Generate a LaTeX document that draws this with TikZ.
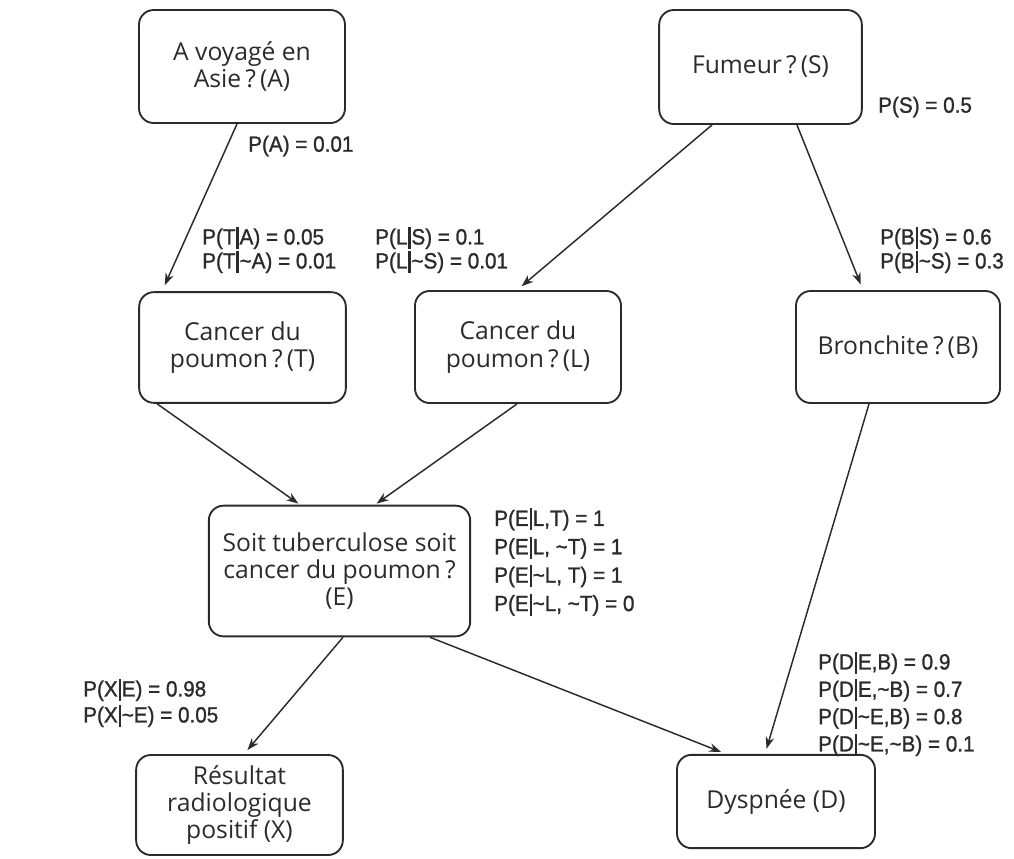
\documentclass[tikz,border=0pt]{standalone}
\usepackage{fontspec}
\setmainfont{Open Sans}
\newfontfamily\labfont[FakeStretch=0.94,FakeBold=1.2]{Liberation Sans}
\usetikzlibrary{calc,arrows.meta}
\definecolor{ink}{HTML}{2B2B2B}
% thick conditional bar used in the probability tables
\newcommand{\cond}{\kern0.6pt\rule[-3.4pt]{1.8pt}{16.5pt}\kern0.6pt}
\begin{document}
\begin{tikzpicture}[x=0.75pt,y=-0.75pt,
  state/.style={draw=ink,line width=1.4pt,rounded corners=11pt,align=center,
    text=ink,font=\fontsize{18.5}{20.5}\selectfont,inner sep=0pt},
  prob/.style={anchor=west,align=left,text=ink,inner sep=0pt,
    font=\labfont\fontsize{16.5}{18}\selectfont},
  link/.style={draw=ink,line width=1.1pt,-{Stealth[length=9pt,width=6.5pt]}}]
\useasboundingbox (0,0) rectangle (1014,858);

% variables of the network
\node[state,minimum width=154.5pt,minimum height=84.75pt] (A) at (242,66.5) {A voyagé en\\Asie\,?\,(A)};
\node[state,minimum width=152pt,minimum height=85.5pt] (S) at (760.5,67) {Fumeur\,?\,(S)};
\node[state,minimum width=155pt,minimum height=83pt] (T) at (242.5,347.5) {Cancer du\\poumon\,?\,(T)};
\node[state,minimum width=154.5pt,minimum height=84pt] (L) at (518,347) {Cancer du\\poumon\,?\,(L)};
\node[state,minimum width=153pt,minimum height=84pt] (B) at (898,347) {Bronchite\,?\,(B)};
\node[state,minimum width=196pt,minimum height=98pt] (E) at (339.5,571) {Soit tuberculose soit\\cancer du poumon\,?\\(E)};
\node[state,minimum width=155pt,minimum height=75pt] (X) at (239.5,805) {Résultat\\radiologique\\positif (X)};
\node[state,minimum width=148.5pt,minimum height=70pt] (D) at (776,801.5) {Dyspnée (D)};

% dependencies
\draw[link,shorten >=5pt] ($(A.south)+(-5,0)$) -- ($(T.north)+(-80.5,0)$);
\draw[link,shorten >=4.5pt] ($(S.south)+(-48.5,0)$) -- ($(L.north)+(-1,0)$);
\draw[link,shorten >=4.5pt] ($(S.south)+(36.5,0)$) -- ($(B.north)+(-35,0)$);
\draw[link,shorten >=1.5pt] ($(T.south)+(-85.5,0)$) -- ($(E.north)+(-39.5,0)$);
\draw[link,shorten >=1.5pt] ($(L.south)+(-1,0)$) -- ($(E.north)+(35.5,0)$);
\draw[link,shorten >=4pt] ($(B.south)+(-29,0)$) -- ($(D.north)+(-11,0)$);
\draw[link,shorten >=4pt] ($(E.south)+(3.5,0)$) -- ($(X.north)+(4.5,0)$);
\draw[link,shorten >=4pt] ($(E.south)+(90.5,0)$) -- ($(D.north)+(-50,0)$);

% probability tables
\node[prob] (pA) at (248,146) {P(A) = 0.01};
\node[prob] (pS) at (878,107) {P(S) = 0.5};
\node[prob] (pT) at (202,250) {P(T\cond A) = 0.05\\P(T\cond\textasciitilde A) = 0.01};
\node[prob] (pL) at (375,250) {P(L\cond S) = 0.1\\P(L\cond\textasciitilde S) = 0.01};
\node[prob] (pB) at (880,250) {P(B\cond S) = 0.6\\P(B\cond\textasciitilde S) = 0.3};
\node[prob,font=\labfont\fontsize{16.5}{21.3}\selectfont] (pE) at (494,562) {P(E\cond L,T) = 1\\P(E\cond L, \textasciitilde T) = 1\\P(E\cond\textasciitilde L, T) = 1\\P(E\cond\textasciitilde L, \textasciitilde T) = 0};
\node[prob,font=\labfont\fontsize{16.5}{20.5}\selectfont] (pD) at (818,704) {P(D\cond E,B) = 0.9\\P(D\cond E,\textasciitilde B) = 0.7\\P(D\cond\textasciitilde E,B) = 0.8\\P(D\cond\textasciitilde E,\textasciitilde B) = 0.1};
\node[prob,font=\labfont\fontsize{16.5}{19.5}\selectfont] (pX) at (83,703) {P(X\cond E) = 0.98\\P(X\cond\textasciitilde E) = 0.05};
\end{tikzpicture}
\end{document}
